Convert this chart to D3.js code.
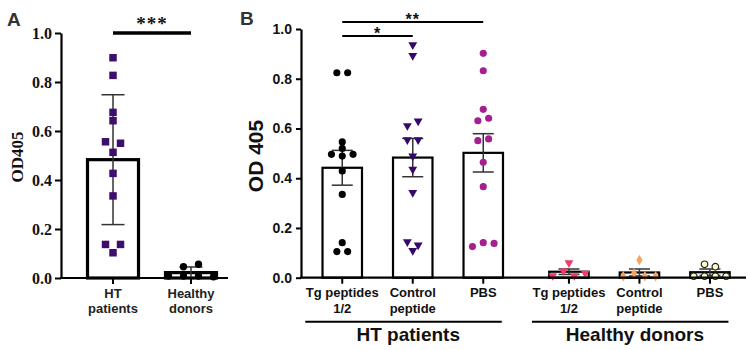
<!DOCTYPE html>
<html><head><meta charset="utf-8">
<script src="https://cdn.jsdelivr.net/npm/d3@7"></script>
<style>body{margin:0;background:#fff}svg{display:block}</style>
</head><body>
<svg id="chart" width="748" height="350"></svg>
<script>
// ---------- Panel A data ----------
const catsA = ["HT|patients", "Healthy|donors"];
const meansA = [0.483, 0.022];
const errA = [0.265, 0.023];
const ptsA_HT = [0.899, 0.827, 0.676, 0.642, 0.556, 0.55, 0.513, 0.427, 0.335, 0.137, 0.137, 0.103];
const ptsA_HD = [0.008, 0.046, 0.008, 0.056, 0.008, 0.005];
const yTicks = [0, 0.2, 0.4, 0.6, 0.8, 1.0];
const sigA = [{a: 0, b: 1, label: "***"}];

// ---------- Panel B data ----------
const groupsB = ["HT patients", "Healthy donors"];
const catsB = ["Tg peptides|1/2", "Control|peptide", "PBS"];
const meansHT = [0.442, 0.483, 0.502];
const errHT = [0.07, 0.077, 0.077];
const meansHD = [0.024, 0.021, 0.022];
const errHD = [0.011, 0.014, 0.013];
const ptsTgHT = [0.824, 0.824, 0.546, 0.52, 0.496, 0.489, 0.496, 0.429, 0.335, 0.141, 0.105, 0.105];
const ptsCtrlHT = [0.936, 0.893, 0.611, 0.63, 0.554, 0.554, 0.489, 0.436, 0.342, 0.144, 0.131, 0.109];
const ptsPbsHT = [0.902, 0.832, 0.677, 0.631, 0.641, 0.551, 0.558, 0.464, 0.366, 0.125, 0.141, 0.138];
const ptsTgHD = [0.008, 0.027, 0.06, 0.008, 0.018];
const ptsCtrlHD = [0.006, 0.018, 0.071, 0.006, 0.006];
const ptsPbsHD = [0.006, 0.054, 0.006, 0.044, 0.006, 0.006];
const sigB = [{a: 0, b: 2, label: "**"}, {a: 0, b: 1, label: "*"}];

const SANS = "'Liberation Sans', Arial, sans-serif";
const SERIF = "'Liberation Serif', 'Times New Roman', serif";
const svg = d3.select("#chart");

// beeswarm-like row spreading (rows of near-equal values spread symmetrically)
function swarm(vals, y, spacing, tol) {
  const idx = vals.map((v, i) => i).sort((a, b) => (vals[b] - vals[a]) || (a - b));
  const rows = [];
  let cur = null;
  idx.forEach(i => {
    if (cur && Math.abs(y(vals[i]) - y(vals[cur[0]])) <= tol) cur.push(i);
    else { cur = [i]; rows.push(cur); }
  });
  const off = new Array(vals.length);
  rows.forEach(r => {
    r.sort((a, b) => a - b);
    r.forEach((i, k) => off[i] = (k - (r.length - 1) / 2) * spacing);
  });
  return vals.map((v, i) => ({v, dx: off[i]}));
}

function multiLine(sel, label, lh) {
  label.split("|").forEach((t, i) => {
    sel.append("tspan").attr("x", sel.attr("x")).attr("dy", i === 0 ? 0 : lh).text(t);
  });
}

function drawErr(g, cx, m, e, y, cap, col, sw) {
  const lo = Math.max(0, m - e), hi = m + e;
  g.append("line").attr("x1", cx).attr("x2", cx).attr("y1", y(hi)).attr("y2", y(lo))
    .attr("stroke", col).attr("stroke-width", sw);
  [hi, lo].forEach(v => g.append("line").attr("x1", cx - cap / 2).attr("x2", cx + cap / 2)
    .attr("y1", y(v)).attr("y2", y(v)).attr("stroke", col).attr("stroke-width", sw));
}

function drawPts(g, cx, pts, y, symType, size, fill, stroke, sw, rot) {
  g.selectAll(null).data(pts).enter().append("path")
    .attr("d", d3.symbol().type(symType).size(size))
    .attr("transform", d => `translate(${cx + d.dx},${y(d.v)})` + (rot ? ` rotate(${rot})` : ""))
    .attr("fill", fill).attr("stroke", stroke || "none").attr("stroke-width", sw || 0);
}

// =================== PANEL A ===================
const yA = d3.scaleLinear().domain([0, 1]).range([278, 33]);
const xA = d3.scaleBand().domain(catsA).range([61, 243]).paddingInner(0.346).paddingOuter(0.34);
const gA = svg.append("g");

gA.selectAll(null).data(catsA).enter().append("rect")
  .attr("x", d => xA(d)).attr("width", xA.bandwidth())
  .attr("y", (d, i) => yA(meansA[i])).attr("height", (d, i) => yA(0) - yA(meansA[i]))
  .attr("fill", "#fff").attr("stroke", "#000").attr("stroke-width", 3.2);

catsA.forEach((c, i) => drawErr(gA, xA(c) + xA.bandwidth() / 2, meansA[i], errA[i], yA, 23, "#333", 1.5));

drawPts(gA, xA(catsA[0]) + xA.bandwidth() / 2, swarm(ptsA_HT, yA, 15, 5), yA, d3.symbolSquare, 56, "#3f0d6e");
drawPts(gA, xA(catsA[1]) + xA.bandwidth() / 2, swarm(ptsA_HD, yA, 15, 5), yA, d3.symbolCircle, 42, "#000");

const axA = gA.append("g").attr("transform", "translate(61,0)")
  .call(d3.axisLeft(yA).tickValues(yTicks).tickFormat(d3.format(".1f")).tickSize(6).tickSizeOuter(0).tickPadding(3));
axA.select(".domain").attr("stroke-width", 2.2);
axA.selectAll(".tick line").attr("stroke-width", 2);
axA.selectAll(".tick text").attr("font-family", SERIF).attr("font-weight", "bold").attr("font-size", 16).attr("fill", "#111");

gA.append("line").attr("x1", 60).attr("x2", 228).attr("y1", yA(0)).attr("y2", yA(0))
  .attr("stroke", "#000").attr("stroke-width", 2.2);
catsA.forEach(c => {
  const cx = xA(c) + xA.bandwidth() / 2;
  gA.append("line").attr("x1", cx).attr("x2", cx).attr("y1", yA(0)).attr("y2", yA(0) + 6)
    .attr("stroke", "#000").attr("stroke-width", 2);
  const t = gA.append("text").attr("x", cx).attr("y", 297.5).attr("text-anchor", "middle")
    .attr("font-family", SANS).attr("font-weight", "bold").attr("font-size", 13).attr("fill", "#222");
  multiLine(t, c, 15.6);
});

gA.append("text").attr("transform", "translate(23,157) rotate(-90)").attr("text-anchor", "middle")
  .attr("font-family", SERIF).attr("font-weight", "bold").attr("font-size", 17).attr("fill", "#111").text("OD405");

sigA.forEach(s => {
  const x1 = xA(catsA[s.a]) + xA.bandwidth() / 2, x2 = xA(catsA[s.b]) + xA.bandwidth() / 2;
  gA.append("line").attr("x1", x1).attr("x2", x2).attr("y1", 33).attr("y2", 33)
    .attr("stroke", "#000").attr("stroke-width", 3.5);
  gA.append("text").attr("x", (x1 + x2) / 2).attr("y", 30).attr("text-anchor", "middle")
    .attr("font-family", SERIF).attr("font-weight", "bold").attr("font-size", 19).attr("letter-spacing", 1)
    .attr("fill", "#111").text(s.label);
});

svg.append("text").attr("x", 7).attr("y", 26).attr("font-family", SANS).attr("font-weight", "bold")
  .attr("font-size", 19).attr("fill", "#333").text("A");

// =================== PANEL B ===================
const yB = d3.scaleLinear().domain([0, 1]).range([277.7, 29]);
const xG = d3.scaleBand().domain(groupsB).range([307, 745.2]).paddingInner(0.067).paddingOuter(0);
const xC = d3.scaleBand().domain(catsB).range([0, xG.bandwidth()]).paddingInner(0.44).paddingOuter(0.22);
const cB = (g, c) => xG(g) + xC(c) + xC.bandwidth() / 2;
const gB = svg.append("g");

const groupData = [
  {g: groupsB[0], means: meansHT, errs: errHT, pts: [ptsTgHT, ptsCtrlHT, ptsPbsHT]},
  {g: groupsB[1], means: meansHD, errs: errHD, pts: [ptsTgHD, ptsCtrlHD, ptsPbsHD]}
];
const markStyles = [
  [ {type: d3.symbolCircle, size: 40, fill: "#000"},
    {type: d3.symbolTriangle, size: 34, fill: "#35096b", rot: 180},
    {type: d3.symbolCircle, size: 40, fill: "#a51f8f"} ],
  [ {type: d3.symbolTriangle, size: 34, fill: "#ef3b6c", rot: 180},
    {type: d3.symbolDiamond, size: 32, fill: "#f9a45e"},
    {type: d3.symbolCircle, size: 34, fill: "#fdfcc2", stroke: "#222", sw: 1.2} ]
];

groupData.forEach((gd, gi) => {
  catsB.forEach((c, ci) => {
    gB.append("rect").attr("x", xG(gd.g) + xC(c)).attr("width", xC.bandwidth())
      .attr("y", yB(gd.means[ci])).attr("height", yB(0) - yB(gd.means[ci]))
      .attr("fill", "#fff").attr("stroke", "#000").attr("stroke-width", 2.2);
  });
  catsB.forEach((c, ci) => {
    const cx = cB(gd.g, c);
    drawErr(gB, cx, gd.means[ci], gd.errs[ci], yB, 21, "#333", 1.5);
    const st = markStyles[gi][ci];
    drawPts(gB, cx, swarm(gd.pts[ci], yB, 10.8, 5), yB, st.type, st.size, st.fill, st.stroke, st.sw, st.rot);
  });
});

const axB = gB.append("g").attr("transform", "translate(301,0)")
  .call(d3.axisLeft(yB).tickValues(yTicks).tickFormat(d3.format(".1f")).tickSize(5).tickSizeOuter(0).tickPadding(4));
axB.select(".domain").attr("stroke-width", 2.2);
axB.selectAll(".tick line").attr("stroke-width", 2);
axB.selectAll(".tick text").attr("font-family", SANS).attr("font-weight", "bold").attr("font-size", 14).attr("fill", "#111");

gB.append("line").attr("x1", 300).attr("x2", 746).attr("y1", yB(0)).attr("y2", yB(0))
  .attr("stroke", "#000").attr("stroke-width", 2.2);
groupsB.forEach(g => {
  catsB.forEach(c => {
    const cx = cB(g, c);
    gB.append("line").attr("x1", cx).attr("x2", cx).attr("y1", yB(0)).attr("y2", yB(0) + 6)
      .attr("stroke", "#000").attr("stroke-width", 2);
    const t = gB.append("text").attr("x", cx).attr("y", 296.5).attr("text-anchor", "middle")
      .attr("font-family", SANS).attr("font-weight", "bold").attr("font-size", 13).attr("fill", "#111");
    multiLine(t, c, 16);
  });
  const first = cB(g, catsB[0]), last = cB(g, catsB[catsB.length - 1]);
  gB.append("line").attr("x1", first - 37).attr("x2", last + 18.5).attr("y1", 321.7).attr("y2", 321.7)
    .attr("stroke", "#000").attr("stroke-width", 2);
  gB.append("text").attr("x", (first + last) / 2 - 4.5).attr("y", 340.5).attr("text-anchor", "middle")
    .attr("font-family", SANS).attr("font-weight", "bold").attr("font-size", 19).attr("fill", "#111").text(g);
});

gB.append("text").attr("transform", "translate(262.5,156) rotate(-90)").attr("text-anchor", "middle")
  .attr("font-family", SANS).attr("font-weight", "bold").attr("font-size", 21).attr("fill", "#111").text("OD 405");

const sigY = [22, 36];
sigB.forEach((s, i) => {
  const x1 = cB(groupsB[0], catsB[s.a]), x2 = cB(groupsB[0], catsB[s.b]);
  gB.append("line").attr("x1", x1).attr("x2", x2).attr("y1", sigY[i]).attr("y2", sigY[i])
    .attr("stroke", "#000").attr("stroke-width", 2);
  gB.append("text").attr("x", (x1 + x2) / 2).attr("y", sigY[i] + 2.5).attr("text-anchor", "middle")
    .attr("font-family", SANS).attr("font-weight", "bold").attr("font-size", 16).attr("letter-spacing", 1)
    .attr("fill", "#111").text(s.label);
});

svg.append("text").attr("x", 240).attr("y", 25).attr("font-family", SANS).attr("font-weight", "bold")
  .attr("font-size", 19).attr("fill", "#333").text("B");
</script>
</body></html>
